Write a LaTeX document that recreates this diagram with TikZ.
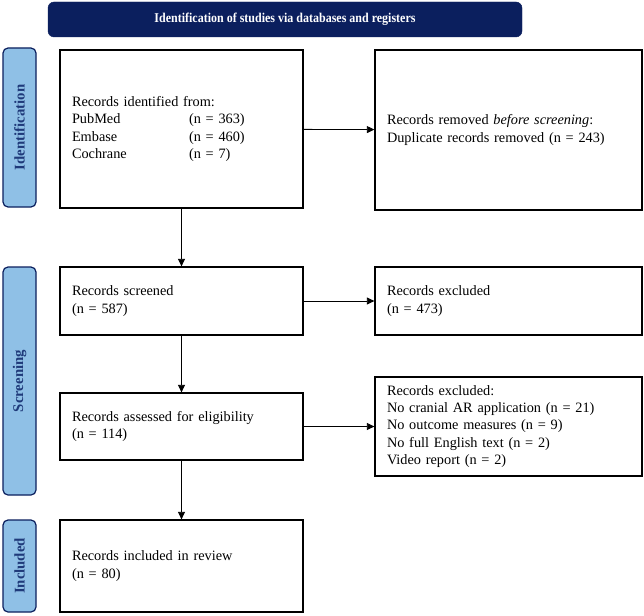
\documentclass[tikz,border=0pt]{standalone}
\usepackage{fontspec}
\setmainfont{Liberation Serif}
\usetikzlibrary{arrows.meta}
\definecolor{navy}{HTML}{0B1F5E}
\definecolor{sideblue}{HTML}{8FC0E6}
\definecolor{sidetext}{HTML}{1F3A7A}
\begin{document}
\begin{tikzpicture}[x=1pt,y=1pt,
  box/.style={draw=black, line width=1.3pt, fill=white, align=left, anchor=center,
    inner xsep=12pt, inner ysep=0pt, font=\fontsize{14.3}{17.2}\selectfont},
  side/.style={draw=navy, line width=1.2pt, fill=sideblue, rounded corners=5pt,
    minimum width=33pt},
  sidetxt/.style={rotate=90, text=sidetext, font=\fontsize{14.8}{16}\selectfont\bfseries},
  arr/.style={draw=black, line width=0.8pt, -{Triangle[width=7pt,length=7.5pt]}}]
\useasboundingbox (0,0) rectangle (644,-615);
\fill[white] (0,0) rectangle (644,-615);
% header
\node[draw=navy, fill=navy, rounded corners=6pt, minimum width=474pt, minimum height=35pt,
  text=white, font=\fontsize{12}{14}\selectfont\bfseries] (head) at (285,-19.5)
  {\scalebox{1}[1.12]{Identification of studies via databases and registers}};
% side labels
\node[side, minimum height=159pt] (sid) at (19.5,-127.5) {};
\node[sidetxt] (sidt) at (sid.center) {Identification};
\node[side, minimum height=228pt] (sscr) at (19.5,-381) {};
\node[sidetxt] (sscrt) at (sscr.center) {Screening};
\node[side, minimum height=92pt] (sinc) at (19.5,-566) {};
\node[sidetxt] (sinct) at (sinc.center) {Included};
% boxes
\node[box, text width=219pt, minimum height=158pt] (ident) at (181.5,-129)
  {Records identified from:\\
   \makebox[117pt][l]{PubMed}(n = 363)\\
   \makebox[117pt][l]{Embase}(n = 460)\\
   \makebox[117pt][l]{Cochrane}(n = 7)};
\node[box, text width=243pt, minimum height=160pt] (remov) at (508.5,-130)
  {Records removed \textit{before screening}:\\Duplicate records removed (n = 243)};
\node[box, text width=219pt, minimum height=68pt] (screen) at (181.5,-301)
  {Records screened\\(n = 587)};
\node[box, text width=243pt, minimum height=68pt] (excl) at (508.5,-301)
  {Records excluded\\(n = 473)};
\node[box, text width=219pt, minimum height=67pt] (elig) at (181.5,-426.5)
  {Records assessed for eligibility\\(n = 114)};
\node[box, text width=243pt, minimum height=99pt] (excl2) at (508.5,-426.5)
  {Records excluded:\\No cranial AR application (n = 21)\\No outcome measures (n = 9)\\No full English text (n = 2)\\Video report (n = 2)};
\node[box, text width=219pt, minimum height=92pt] (incl) at (181.5,-566)
  {Records included in review\\(n = 80)};
% arrows
\draw[arr] (ident) -- (remov);
\draw[arr] (ident) -- (screen);
\draw[arr] (screen) -- (excl);
\draw[arr] (screen) -- (elig);
\draw[arr] (elig) -- (excl2);
\draw[arr] (elig) -- (incl);
\end{tikzpicture}
\end{document}
